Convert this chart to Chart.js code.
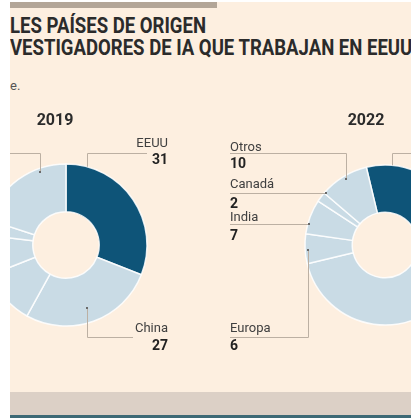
<!DOCTYPE html>
<html><head><meta charset="utf-8">
<script src="https://cdn.jsdelivr.net/npm/chart.js@4/dist/chart.umd.min.js"></script>
<style>
html,body{margin:0;padding:0;background:#fff;width:411px;height:418px;overflow:hidden}
#panel{position:absolute;left:10px;top:2px;width:401px;height:390px;background:#fdefe0}
#band{position:absolute;left:10px;top:392px;width:401px;height:23px;background:#dcd0c6}
#rule{position:absolute;left:10px;top:415px;width:401px;height:3px;background:#3e6a76}
#bar{position:absolute;left:10px;top:2px;width:207px;height:6px;background:#b3a698}
#clip{position:absolute;left:0;top:0;width:411px;height:418px;clip-path:inset(2px 0 26px 10px)}
canvas{position:absolute;left:0;top:0}
.t{position:absolute;left:10px;font-family:Roboto,sans-serif;font-weight:700;font-size:22px;color:#2b2b2b;white-space:nowrap;transform-origin:0 0;line-height:1}
#sub{position:absolute;left:10px;top:79px;font-family:Roboto,sans-serif;font-size:13px;line-height:1;color:#555;white-space:nowrap}
</style>
</head><body>
<div id="panel"></div><div id="bar"></div><div id="band"></div><div id="rule"></div>
<div id="clip">
  <div class="t" id="t1" style="top:14.5px">LES PAÍSES DE ORIGEN</div>
  <div class="t" id="t2" style="top:36.5px">VESTIGADORES DE IA QUE TRABAJAN EN EEUU</div>
  <div id="sub">e.</div>
  <canvas id="c2019" width="411" height="418" style="width:411px;height:418px"></canvas>
  <canvas id="c2022" width="411" height="418" style="width:411px;height:418px"></canvas>
</div>
<script>
// ---- data ----
const categories = ['EEUU', 'China', 'Europa', 'India', 'Canadá', 'Otros'];
const values2019 = [31, 27, 11, 8, 3, 20];
const values2022 = [37, 38, 6, 7, 2, 10];
const years = ['2019', '2022'];

// ---- styling / layout ----
const DARK = '#0e5478', LIGHT = '#c9dbe5';
const sliceColors = categories.map((c, i) => i === 0 ? DARK : LIGHT);
const W = 411, H = 418;

const layouts = [
  { canvas: 'c2019', values: values2019, year: years[0], center: [66, 245], radius: 81, rotation: 0,
    yearX: 55, yearY: 125,
    labels: [
      { index: 0, t: 0.134, rf: 1.0, dot: false, lineY: 153, lineTo: 147, textX: 168, align: 'right', nameY: 147, valueY: 164 },
      { index: 1, t: 0.51, rf: 0.82, dot: true, lineY: 337, lineTo: 133, textX: 168, align: 'right', nameY: 332, valueY: 350 },
      { index: 5, t: 0.73, rf: 0.96, dot: true, lineY: 153, lineTo: -40 }
    ] },
  { canvas: 'c2022', values: values2022, year: years[1], center: [385, 245], radius: 80, rotation: -13.5,
    yearX: 366, yearY: 125,
    labels: [
      { index: 0, t: 0.139, rf: 1.0, dot: false, lineY: 153, lineTo: 460 },
      { index: 5, t: 0.52, rf: 0.96, dot: true, lineY: 153, lineTo: 230, textX: 230, align: 'left', nameY: 151, valueY: 168 },
      { index: 4, side: -1, rf: 0.98, dot: true, lineY: 193, lineTo: 230, textX: 230, align: 'left', nameY: 188, valueY: 208 },
      { index: 3, side: -1, rf: 0.98, dot: true, lineY: 224, lineTo: 230, textX: 230, align: 'left', nameY: 221, valueY: 240 },
      { index: 2, t: 0.46, rf: 0.97, dot: true, lineY: 337, lineTo: 230, textX: 230, align: 'left', nameY: 332, valueY: 350 }
    ] }
];

const annot = {
  id: 'annot',
  afterDatasetsDraw(chart, args, opts) {
    const cfg = opts.cfg;
    const ctx = chart.ctx;
    const meta = chart.getDatasetMeta(0);
    const data = chart.data.datasets[0].data;
    ctx.save();
    ctx.font = 'bold 16px Roboto';
    ctx.fillStyle = '#2b2b2b';
    ctx.textAlign = 'center';
    ctx.textBaseline = 'alphabetic';
    ctx.fillText(cfg.year, cfg.yearX, cfg.yearY);
    cfg.labels.forEach(l => {
      const p = meta.data[l.index].getProps(['x', 'y', 'startAngle', 'endAngle', 'outerRadius', 'innerRadius'], true);
      const r = p.outerRadius * l.rf;
      let ax, ay;
      if (l.t !== undefined) {
        const a = p.startAngle + l.t * (p.endAngle - p.startAngle);
        ax = p.x + r * Math.cos(a); ay = p.y + r * Math.sin(a);
      } else {
        const dy = l.lineY - p.y;
        ax = p.x + l.side * Math.sqrt(r * r - dy * dy); ay = l.lineY;
      }
      const rx = Math.round(ax) + 0.5;
      ctx.strokeStyle = '#bcb0a3';
      ctx.lineWidth = 1;
      ctx.beginPath();
      ctx.moveTo(rx, ay);
      ctx.lineTo(rx, l.lineY + 0.5);
      ctx.lineTo(l.lineTo, l.lineY + 0.5);
      ctx.stroke();
      if (l.dot) { ctx.fillStyle = '#6a6a6a'; ctx.fillRect(Math.round(ax) - 1, Math.round(ay) - 1, 2, 2); }
      if (l.textX !== undefined) {
        ctx.textAlign = l.align;
        ctx.font = '13px Roboto';
        ctx.fillStyle = '#404040';
        ctx.fillText(categories[l.index], l.textX, l.nameY);
        ctx.font = 'bold 14px Roboto';
        ctx.fillStyle = '#222';
        ctx.fillText(String(data[l.index]), l.textX, l.valueY);
      }
    });
    ctx.restore();
  }
};

function build() {
  // condense the headline to its measured width
  const t1 = document.getElementById('t1'), t2 = document.getElementById('t2');
  const s = 402 / t2.offsetWidth;
  t1.style.transform = 'scaleX(' + s + ')';
  t2.style.transform = 'scaleX(' + s + ')';

  layouts.forEach(L => {
    const h = 20;
    const [cx, cy] = L.center;
    new Chart(document.getElementById(L.canvas), {
      type: 'doughnut',
      data: {
        labels: categories,
        datasets: [{ data: L.values, backgroundColor: sliceColors, borderColor: 'rgba(255,255,255,0.85)', borderWidth: 1.5, clip: false }]
      },
      options: {
        responsive: false,
        animation: false,
        events: [],
        radius: L.radius,
        cutout: '41%',
        rotation: L.rotation,
        layout: { padding: { left: cx - h, right: W - cx - h, top: cy - h, bottom: H - cy - h } },
        plugins: { legend: { display: false }, tooltip: { enabled: false }, annot: { cfg: L } }
      },
      plugins: [annot]
    });
  });
}
(document.fonts && document.fonts.ready ? document.fonts.ready : Promise.resolve()).then(build);
</script>
</body></html>
